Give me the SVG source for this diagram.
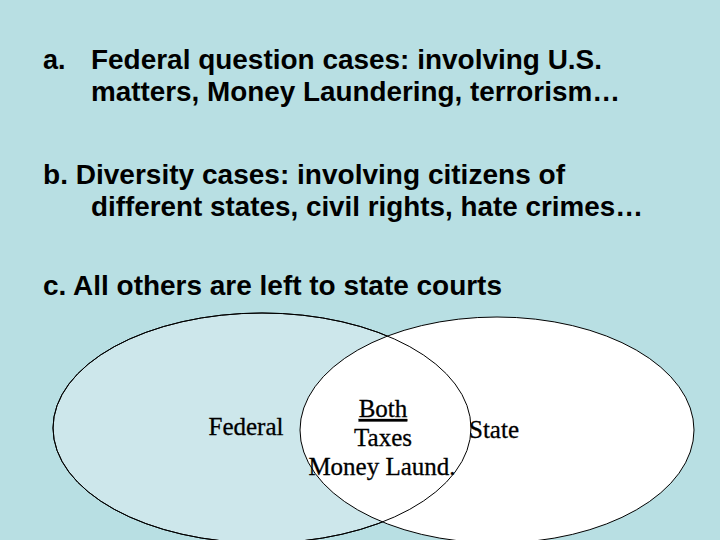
<svg xmlns="http://www.w3.org/2000/svg" width="720" height="540" viewBox="0 0 720 540">
<style>
.h{font-family:"Liberation Sans",Arial,sans-serif;font-size:27px;font-weight:bold;fill:#000}
.t{font-family:"Liberation Serif","Times New Roman",serif;font-size:25px;fill:#000;stroke:#000;stroke-width:0.3}
.e{stroke:#000;stroke-width:1}
</style>
<rect width="720" height="540" fill="#b8dfe3"/>
<g id="text">
<text class="h" x="43" y="69">a.</text>
<text class="h" x="91" y="69" textLength="511" lengthAdjust="spacingAndGlyphs">Federal question cases: involving U.S.</text>
<text class="h" x="91" y="101" textLength="529" lengthAdjust="spacingAndGlyphs">matters, Money Laundering, terrorism…</text>
<text class="h" x="43" y="184" textLength="522" lengthAdjust="spacingAndGlyphs">b. Diversity cases: involving citizens of</text>
<text class="h" x="91" y="216" textLength="552" lengthAdjust="spacingAndGlyphs">different states, civil rights, hate crimes…</text>
<text class="h" x="43" y="295" textLength="459" lengthAdjust="spacingAndGlyphs">c. All others are left to state courts</text>
</g>
<g id="federal">
<ellipse class="e" cx="262" cy="428" rx="209" ry="115" fill="#cde7eb"/>
</g>
<g id="state">
<ellipse class="e" cx="497" cy="430" rx="197" ry="113" fill="#ffffff"/>
<ellipse cx="262" cy="428" rx="209" ry="115" fill="none" stroke="#000" stroke-width="1"/>
</g>
<g id="labels">
<text class="t" x="246" y="435" text-anchor="middle">Federal</text>
<text class="t" x="383" y="417" text-anchor="middle" text-decoration="underline">Both</text>
<text class="t" x="383" y="446" text-anchor="middle">Taxes</text>
<text class="t" x="382" y="475" text-anchor="middle">Money Laund.</text>
<text class="t" x="494" y="438" text-anchor="middle">State</text>
</g>
</svg>
